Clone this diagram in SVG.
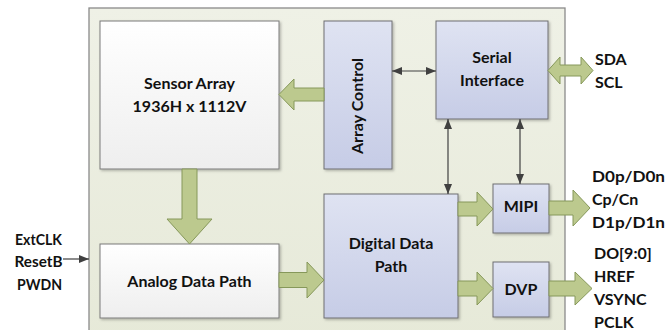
<svg xmlns="http://www.w3.org/2000/svg" width="672" height="330" viewBox="0 0 672 330">
  <defs>
    <linearGradient id="gWhite" x1="0" y1="0" x2="0" y2="1">
      <stop offset="0" stop-color="#ffffff"/>
      <stop offset="1" stop-color="#eeeeee"/>
    </linearGradient>
    <linearGradient id="gBlue" x1="0" y1="0" x2="0" y2="1">
      <stop offset="0" stop-color="#dfe3f2"/>
      <stop offset="1" stop-color="#c6cce6"/>
    </linearGradient>
    <linearGradient id="gOuter" x1="0" y1="0" x2="0" y2="1">
      <stop offset="0" stop-color="#eff1e6"/>
      <stop offset="1" stop-color="#e6e9d8"/>
    </linearGradient>
    <marker id="ah" viewBox="0 0 10 8" refX="10" refY="4" markerWidth="10" markerHeight="8" markerUnits="userSpaceOnUse" orient="auto-start-reverse">
      <path d="M0,0 L10,4 L0,8 Z" fill="#404040"/>
    </marker>
    <filter id="sh" x="-10%" y="-10%" width="130%" height="130%">
      <feDropShadow dx="1.5" dy="1.5" stdDeviation="1" flood-color="#000000" flood-opacity="0.25"/>
    </filter>
  </defs>
  <style>
    .outer { fill: url(#gOuter); stroke: #8a8a8a; stroke-width: 1.3; }
    .wbox { fill: url(#gWhite); stroke: #7a7a7a; stroke-width: 1; filter: url(#sh); }
    .bbox { fill: url(#gBlue); stroke: #6e6e72; stroke-width: 1; filter: url(#sh); }
    .fat { fill: #bcc98e; stroke: #86985a; stroke-width: 1; }
    .thin { fill: none; stroke: #404040; stroke-width: 1.2; }
    text { font-family: "Lato", "Liberation Sans", sans-serif; font-weight: bold; font-size: 16px; fill: #111111; }
    .c { text-anchor: middle; }
  </style>

  <rect class="outer" x="89" y="8" width="476" height="340"/>

  <g id="sensor-array">
    <rect class="wbox" x="100" y="21" width="179" height="148"/>
    <text class="c" x="189.5" y="89">Sensor Array</text>
    <text class="c" x="189.5" y="112">1936H x 1112V</text>
  </g>

  <g id="array-control">
    <rect class="bbox" x="324" y="21" width="68" height="148"/>
    <text class="c" transform="translate(363,106) rotate(-90)">Array Control</text>
  </g>

  <g id="serial-interface">
    <rect class="bbox" x="436" y="21" width="112" height="98"/>
    <text class="c" x="492" y="63">Serial</text>
    <text class="c" x="492" y="86">Interface</text>
  </g>

  <g id="analog-data-path">
    <rect class="wbox" x="100" y="244" width="179" height="74"/>
    <text class="c" x="189.5" y="287">Analog Data Path</text>
  </g>

  <g id="digital-data-path">
    <rect class="bbox" x="324" y="194" width="134" height="124"/>
    <text class="c" x="391" y="249">Digital Data</text>
    <text class="c" x="391" y="272">Path</text>
  </g>

  <g id="mipi">
    <rect class="bbox" x="493" y="184" width="56" height="49"/>
    <text class="c" x="521" y="212">MIPI</text>
  </g>

  <g id="dvp">
    <rect class="bbox" x="493" y="262" width="56" height="55"/>
    <text class="c" x="521" y="295">DVP</text>
  </g>

  <g id="connectors">
    <path class="fat" d="M324,88 H294 V79 L279,94.5 L294,110 V101 H324 Z"/>
    <path class="fat" d="M182,169 H197 V219 H212 L189.5,244 L167,219 H182 Z"/>
    <path class="fat" d="M279,272.5 H307 V262 L324,280 L307,298 V287.5 H279 Z"/>
    <path class="fat" d="M458,202 H477 V192 L493,209 L477,226 V216 H458 Z"/>
    <path class="fat" d="M549,201 H573 V190 L590,208 L573,226 V215 H549 Z"/>
    <path class="fat" d="M458,281 H477 V272 L493,288.5 L477,305 V296 H458 Z"/>
    <path class="fat" d="M549,281 H575 V272 L592,288.5 L575,305 V296 H549 Z"/>
    <path class="fat" d="M548,70.5 L560,57 V65 H581 V57 L593,70.5 L581,84 V76 H560 V84 Z"/>
    <line class="thin" x1="392" y1="71" x2="436" y2="71" marker-start="url(#ah)" marker-end="url(#ah)"/>
    <line class="thin" x1="448" y1="119" x2="448" y2="194" marker-start="url(#ah)" marker-end="url(#ah)"/>
    <line class="thin" x1="520" y1="119" x2="520" y2="184" marker-start="url(#ah)" marker-end="url(#ah)"/>
    <line class="thin" x1="63" y1="259" x2="89" y2="259" marker-end="url(#ah)"/>
  </g>

  <g id="labels">
    <text class="c" x="38.5" y="245" textLength="47" lengthAdjust="spacingAndGlyphs">ExtCLK</text>
    <text class="c" x="38.5" y="267" textLength="48" lengthAdjust="spacingAndGlyphs">ResetB</text>
    <text class="c" x="39.5" y="290" textLength="45" lengthAdjust="spacingAndGlyphs">PWDN</text>
    <text x="595" y="65">SDA</text>
    <text x="595" y="88">SCL</text>
    <text x="592" y="182" textLength="73" lengthAdjust="spacingAndGlyphs">D0p/D0n</text>
    <text x="592" y="205">Cp/Cn</text>
    <text x="592" y="228" textLength="73" lengthAdjust="spacingAndGlyphs">D1p/D1n</text>
    <text x="594" y="259">DO[9:0]</text>
    <text x="594" y="282">HREF</text>
    <text x="594" y="305">VSYNC</text>
    <text x="594" y="328">PCLK</text>
  </g>
</svg>
